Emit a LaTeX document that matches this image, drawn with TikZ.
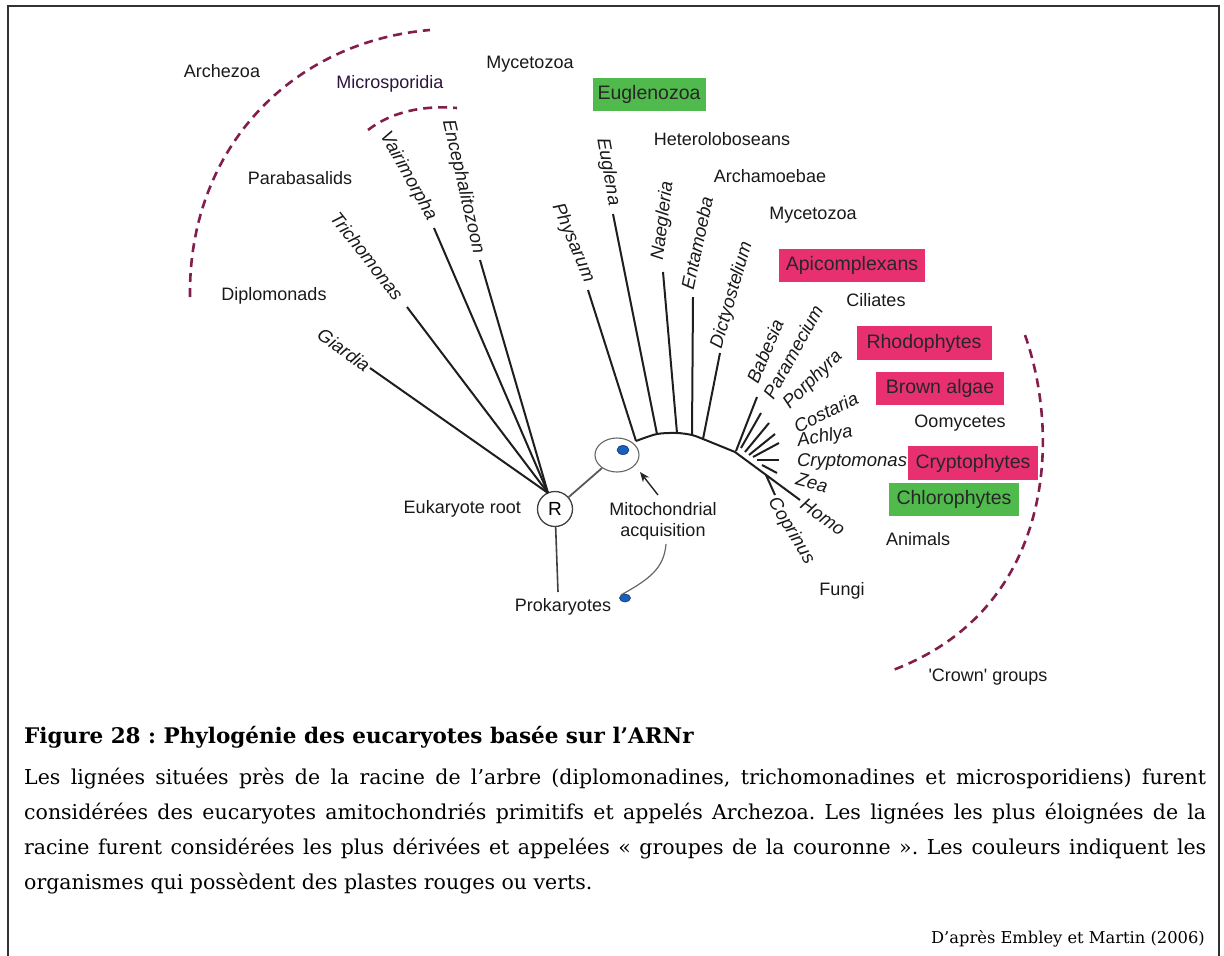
\documentclass[tikz,border=0pt]{standalone}
\usepackage{fontspec}
\setmainfont{DejaVu Serif}
\newfontfamily\labfont{Liberation Sans}
\usetikzlibrary{shapes.geometric,arrows.meta}

\definecolor{arcred}{RGB}{130,30,75}
\definecolor{plastred}{RGB}{232,48,112}
\definecolor{plastgreen}{RGB}{80,186,76}
\definecolor{branch}{RGB}{30,30,30}
\definecolor{dotblue}{RGB}{25,95,190}
\definecolor{framegray}{RGB}{50,50,50}

\begin{document}
\frenchspacing
\begin{tikzpicture}[x=1pt,y=-1pt,
  lab/.style={font=\labfont\fontsize{18}{21}\selectfont, inner sep=0pt, text=black!90},
  taxon/.style={font=\labfont\itshape\fontsize{18.5}{21}\selectfont, inner sep=0pt, text=black!90},
  plastbox/.style={font=\labfont\fontsize{19.5}{22}\selectfont, fill=#1, inner sep=0pt,
    minimum height=33pt, text=black!85},
  edge/.style={draw=branch, line width=2pt},
  thinedge/.style={draw=black!75, line width=1.6pt},
  grouparc/.style={draw=arcred, line width=2.6pt, dash pattern=on 9pt off 6pt},
  capline/.style={anchor=base west, inner sep=0pt, font=\fontsize{20.5}{35}\selectfont}
]
\useasboundingbox (0,0) rectangle (1224,956);

% frame
\draw[framegray, line width=2pt] (8,956) -- (8,6) -- (1219,6) -- (1219,956);

% ---------- root, mitochondrion, prokaryotes ----------
\node[circle, draw=black!75, line width=1.3pt, minimum size=35pt, inner sep=0pt,
      font=\labfont\fontsize{19}{22}\selectfont] (R) at (555,509) {R};
\node[ellipse, draw=black!60, line width=1.1pt, minimum width=44pt, minimum height=34pt,
      inner sep=0pt] (mito) at (617,455) {};
\node[ellipse, fill=dotblue, draw=dotblue!60!black, line width=0.6pt,
      minimum width=12pt, minimum height=9pt, inner sep=0pt] (dotin) at (623,450) {};
\node[ellipse, fill=dotblue, draw=dotblue!60!black, line width=0.6pt,
      minimum width=11pt, minimum height=8pt, inner sep=0pt] (dotout) at (625,598) {};

\node[lab, anchor=east] (euroot) at (521,509) {Eukaryote root};
\node[lab] (prok) at (563,607) {Prokaryotes};
\node[lab, align=center] (mitolab) at (663,521) {Mitochondrial\\acquisition};

\coordinate (pk) at (558,592);
\draw[thinedge] (R) -- (pk);
\draw[draw=black!65, line width=1.8pt] (R) -- (mito);

\coordinate (arrTail) at (658,495);
\coordinate (arrTip) at (640,472);
\draw[black!85, line width=1.4pt, -{Stealth[length=10pt,width=8pt]}] (arrTail) -- (arrTip);
\coordinate (curveStart) at (666,544);
\draw[draw=black!60, line width=1.2pt] (curveStart) .. controls (664,568) and (650,579) .. (dotout.north west);

% ---------- basal branches ----------
\coordinate (Rj) at (548,493);
\coordinate (tGiardia) at (370,368);
\coordinate (tTricho) at (407,307);
\coordinate (tVairi) at (434,228);
\coordinate (tEnceph) at (480,260);
\draw[edge] (tGiardia) -- (Rj);
\draw[edge] (tTricho) -- (Rj);
\draw[edge] (tVairi) -- (Rj);
\draw[edge] (tEnceph) -- (Rj);

\node[taxon, rotate=-36] (Giardia) at (344,350) {Giardia};
\node[taxon, rotate=-52] (Tricho) at (367,256) {Trichomonas};
\node[taxon, rotate=-61] (Vairi) at (408,176) {Vairimorpha};
\node[taxon, rotate=-77] (Enceph) at (463,187) {Encephalitozoon};

% ---------- backbone to the crown ----------
\coordinate (b0) at (636,441);
\coordinate (jEugl) at (657,434);
\coordinate (jNaeg) at (677,433);
\coordinate (jEnta) at (692,435);
\coordinate (jDict) at (703,439);
\coordinate (jFan) at (735,452);
\coordinate (tHomo) at (800,500);
\draw[edge] plot[smooth, tension=0.5] coordinates {(b0) (jEugl) (jNaeg) (jEnta) (jDict) (jFan)} -- (tHomo);

\coordinate (tPhys) at (588,290);
\coordinate (tEugl) at (613,214);
\coordinate (tNaeg) at (663,272);
\coordinate (tEnta) at (693,297);
\coordinate (tDict) at (720,353);
\draw[edge] (tPhys) -- (b0);
\draw[edge] (tEugl) -- (jEugl);
\draw[edge] (tNaeg) -- (jNaeg);
\draw[edge] (tEnta) -- (jEnta);
\draw[edge] (tDict) -- (jDict);

% crown fan
\coordinate (f1) at (736,451); \coordinate (tBabesia) at (757,397);
\coordinate (f2) at (741,448); \coordinate (tParam) at (761,413);
\coordinate (f3) at (745,452); \coordinate (tPorph) at (769,423);
\coordinate (f4) at (749,455); \coordinate (tCost) at (775,434);
\coordinate (f5) at (753,457); \coordinate (tAchlya) at (779,443);
\coordinate (f6) at (757,460); \coordinate (tCrypto) at (779,460);
\coordinate (f7) at (762,465); \coordinate (tZea) at (777,473);
\coordinate (f8) at (766,475); \coordinate (tCopr) at (775,495);
\draw[edge] (f1) -- (tBabesia);
\draw[edge] (f2) -- (tParam);
\draw[edge] (f3) -- (tPorph);
\draw[edge] (f4) -- (tCost);
\draw[edge] (f5) -- (tAchlya);
\draw[edge] (f6) -- (tCrypto);
\draw[edge] (f7) -- (tZea);
\draw[edge] (f8) -- (tCopr);

\node[taxon, rotate=-67] (Phys) at (573,243) {Physarum};
\node[taxon, rotate=-80] (Eugl) at (608,172) {Euglena};
\node[taxon, rotate=83] (Naeg) at (663,221) {Naegleria};
\node[taxon, rotate=78] (Enta) at (697,243) {Entamoeba};
\node[taxon, rotate=74] (Dict) at (732,295) {Dictyostelium};
\node[taxon, rotate=67] (Babesia) at (765,351) {Babesia};
\node[taxon, rotate=61] (Param) at (793,352) {Paramecium};
\node[taxon, rotate=45] (Porph) at (813,380) {Porphyra};
\node[taxon, rotate=26] (Cost) at (826,412) {Costaria};
\node[taxon, rotate=10] (Achlya) at (825,437) {Achlya};
\node[taxon] (Crypto) at (852,462) {Cryptomonas};
\node[taxon, rotate=-15] (Zea) at (812,483) {Zea};
\node[taxon, rotate=-35] (Homo) at (823,517) {Homo};
\node[taxon, rotate=-59] (Copr) at (791,531) {Coprinus};

% ---------- group names ----------
\node[lab] (archezoa) at (222,71) {Archezoa};
\node[lab, text={rgb,255:red,45;green,20;blue,60}] (microsp) at (390,84) {Microsporidia};
\node[lab] (myceto1) at (530,64) {Mycetozoa};
\node[lab] (parab) at (300,178) {Parabasalids};
\node[lab] (diplo) at (274,296) {Diplomonads};
\node[plastbox=plastgreen, minimum width=113pt] (euglz) at (649,94) {Euglenozoa};
\node[lab] (hetero) at (722,139) {Heteroloboseans};
\node[lab] (archam) at (770,176) {Archamoebae};
\node[lab] (myceto2) at (813,215) {Mycetozoa};
\node[plastbox=plastred, minimum width=146pt] (apic) at (852,265) {Apicomplexans};
\node[lab] (cil) at (876,300) {Ciliates};
\node[plastbox=plastred, minimum width=135pt, minimum height=34pt] (rhodo) at (924,343) {Rhodophytes};
\node[plastbox=plastred, minimum width=128pt] (brown) at (940,388) {Brown algae};
\node[lab] (oomy) at (960,423) {Oomycetes};
\node[plastbox=plastred, minimum width=130pt, minimum height=34pt] (crypt) at (973,463) {Cryptophytes};
\node[plastbox=plastgreen, minimum width=130pt] (chloro) at (954,499) {Chlorophytes};
\node[lab] (anim) at (918,539) {Animals};
\node[lab] (fungi) at (842,591) {Fungi};
\node[lab] (crown) at (988,677) {'Crown' groups};

% ---------- dashed group arcs ----------
\coordinate (aA1) at (190,297);
\coordinate (aA2) at (430,30);
\draw[grouparc] (aA1) .. controls (188,150) and (290,42) .. (aA2);
\coordinate (aM1) at (368,130);
\coordinate (aM2) at (457,108);
\draw[grouparc] (aM1) .. controls (390,113) and (420,105) .. (aM2);
\coordinate (aC1) at (1025,335);
\coordinate (aC2) at (893,670);
\draw[grouparc] (aC1) .. controls (1062,440) and (1052,610) .. (aC2);

% ---------- caption ----------
\node[anchor=base west, inner sep=0pt, font=\bfseries\fontsize{21.5}{24}\selectfont] (captitle) at (24,743)
  {Figure 28 : Phylogénie des eucaryotes basée sur l’ARNr};
\node[capline] (cap1) at (24,784) {\makebox[1182pt][s]{Les lignées situées près de la racine de l’arbre (diplomonadines, trichomonadines et microsporidiens) furent}};
\node[capline] (cap2) at (24,819) {\makebox[1182pt][s]{considérées des eucaryotes amitochondriés primitifs et appelés Archezoa. Les lignées les plus éloignées de la}};
\node[capline] (cap3) at (24,854) {\makebox[1182pt][s]{racine furent considérées les plus dérivées et appelées « groupes de la couronne ». Les couleurs indiquent les}};
\node[capline] (cap4) at (24,889) {organismes qui possèdent des plastes rouges ou verts.};
\node[anchor=base east, inner sep=0pt, font=\fontsize{16.3}{19}\selectfont] (source) at (1205,943)
  {D’après Embley et Martin (2006)};
\end{tikzpicture}
\end{document}
